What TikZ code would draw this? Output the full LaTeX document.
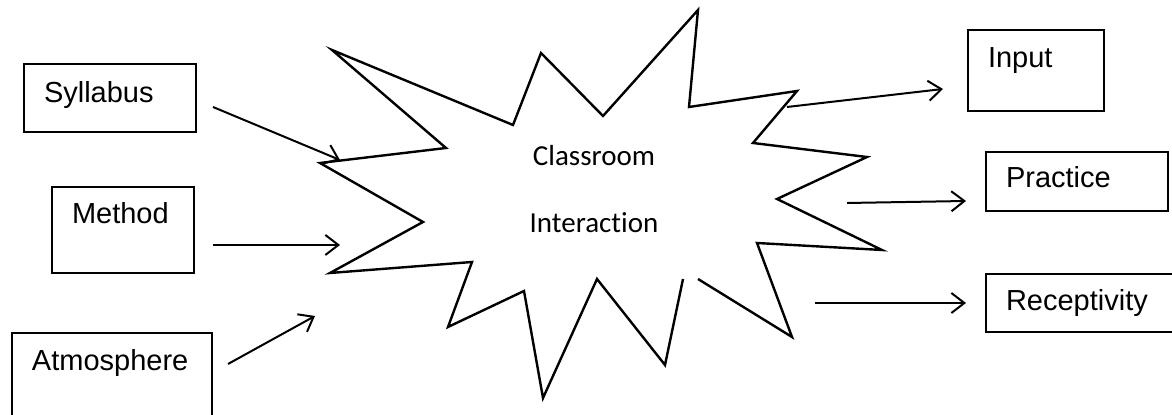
\documentclass[tikz,border=0pt]{standalone}
\usepackage{fontspec}
\setmainfont{Liberation Sans}
\newfontfamily\calfont[Ligatures=CommonOff]{Carlito}
\usetikzlibrary{arrows.meta}
\begin{document}
\begin{tikzpicture}[x=0.5pt,y=-0.5pt,
  box/.style={draw, line width=1pt, rectangle, inner xsep=10pt, inner ysep=0pt,
    align=left, anchor=north west, font=\fontsize{14.5}{17}\selectfont},
  arr/.style={-{Straight Barb[length=6.5pt,width=10pt]}, line width=1pt},
  star/.style={line width=1.2pt, line join=miter}]
\clip (0,0) rectangle (1172,415);
\fill[white] (0,0) rectangle (1172,415);

% input boxes
\node[box, text width=66pt, text height=19.5pt, text depth=14.5pt] (syl) at (23,63) {Syllabus};
\node[box, text width=51pt, text height=18.5pt, text depth=24.5pt] (met) at (51,186) {Method};
\node[box, text width=80pt, text height=19pt, text depth=40pt] (atm) at (11,332) {Atmosphere};
% output boxes
\node[box, text width=48pt, text height=19pt, text depth=21.5pt] (inp) at (967,29) {Input};
\node[box, text width=71pt, text height=18pt, text depth=11.5pt] (pra) at (985,151) {Practice};
\node[box, text width=76.5pt, text height=18.5pt, text depth=10.5pt] (rec) at (985,273) {Receptivity};

% starburst
\draw[star] (698,279) -- (792,337) -- (757,243) -- (882,250) -- (777,199)
  -- (867,157) -- (753,143) -- (797,91) -- (689,107) -- (698,10) -- (603,116)
  -- (541,53) -- (513,125) -- (332,50) -- (446,148) -- (320,163) -- (423,222)
  -- (330,273) -- (472,262) -- (448,327) -- (524,291) -- (543,398) -- (597,279)
  -- (665,365) -- (683,279);
\node[font=\calfont\fontsize{14.5}{33.5}\selectfont, align=center] (ci) at (594,189) {Classroom\\Interaction};

% arrow end points
\coordinate (sylA) at (213,107); \coordinate (sylB) at (340,160);
\coordinate (metA) at (213,245); \coordinate (metB) at (340,245);
\coordinate (atmA) at (228,364); \coordinate (atmB) at (315,316);
\coordinate (inpA) at (787,107); \coordinate (inpB) at (943,89);
\coordinate (praA) at (847,203); \coordinate (praB) at (966,201);
\coordinate (recA) at (815,303); \coordinate (recB) at (966,303);

\draw[arr] (sylA) -- (sylB);
\draw[arr] (metA) -- (metB);
\draw[arr] (atmA) -- (atmB);
\draw[arr] (inpA) -- (inpB);
\draw[arr] (praA) -- (praB);
\draw[arr] (recA) -- (recB);
\end{tikzpicture}
\end{document}
